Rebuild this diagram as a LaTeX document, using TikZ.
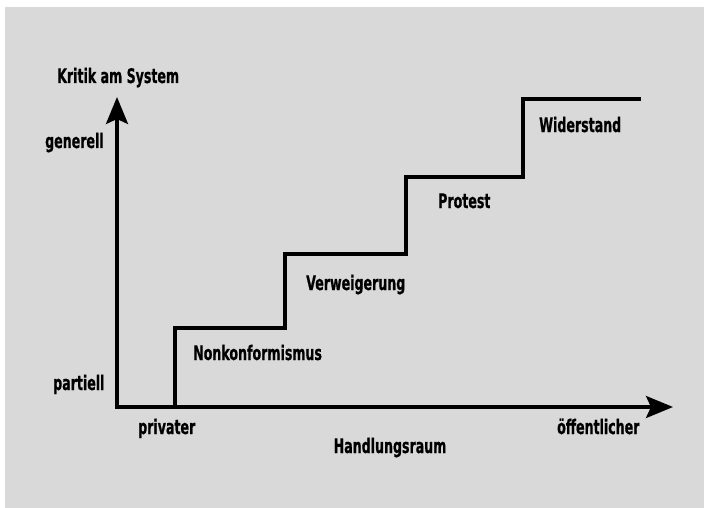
\documentclass[tikz,border=0pt]{standalone}
\usepackage{fontspec}
\newfontfamily\labfont[FakeStretch=0.63, BoldFeatures={FakeBold=0.7}]{DejaVu Sans}
\usetikzlibrary{arrows.meta}
\definecolor{bgGray}{HTML}{D9D9D9}
\tikzset{
  lab/.style={font=\labfont\bfseries\fontsize{20}{22}\selectfont, inner sep=0pt, anchor=base west, text=black},
  axisline/.style={line width=3.4pt, line join=miter},
  stairline/.style={line width=3.3pt, line join=miter},
}
\begin{document}
\begin{tikzpicture}[x=1pt,y=-1pt]
\useasboundingbox (0,0) rectangle (704,508);
\fill[bgGray] (5,7) rectangle (704,508);
% axes
\coordinate (O) at (117,407);
\coordinate (ytip) at (117,97);
\coordinate (xtip) at (673,407);
\draw[axisline, {Stealth[length=27pt,width=22pt,inset=5pt]}-{Stealth[length=27pt,width=22pt,inset=5pt]}] (ytip) -- (O) -- (xtip);
% staircase
\coordinate (s0) at (175,405);
\coordinate (s1) at (175,328);
\coordinate (s2) at (285,328);
\coordinate (s3) at (285,254);
\coordinate (s4) at (406,254);
\coordinate (s5) at (406,177);
\coordinate (s6) at (523,177);
\coordinate (s7) at (523,99);
\coordinate (s8) at (641,99);
\draw[stairline] (s0) -- (s1) -- (s2) -- (s3) -- (s4) -- (s5) -- (s6) -- (s7) -- (s8);
% labels
\node[lab] (kritik) at (57,83) {Kritik am System};
\node[lab] (generell) at (45,148) {generell};
\node[lab] (partiell) at (53,390) {partiell};
\node[lab] (privater) at (138,434) {privater};
\node[lab, anchor=base] (raum) at (390,453) {Handlungsraum};
\node[lab] (oeff) at (557,434) {öffentlicher};
\node[lab] (nonk) at (193,360) {Nonkonformismus};
\node[lab] (verw) at (306,290) {Verweigerung};
\node[lab] (prot) at (438,208) {Protest};
\node[lab] (wid) at (539,132) {Widerstand};
\end{tikzpicture}
\end{document}
